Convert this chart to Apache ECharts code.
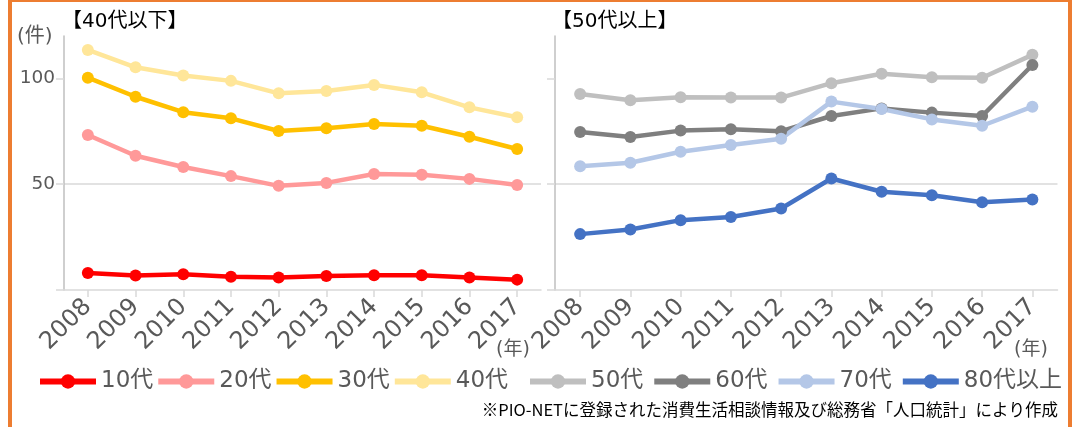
<!DOCTYPE html>
<html>
<head>
<meta charset="utf-8">
<script src="https://cdn.jsdelivr.net/npm/echarts@6/dist/echarts.min.js"></script>
<style>
html,body{margin:0;padding:0;background:#fff;}
#c{width:1076px;height:427px;}
</style>
</head>
<body>
<div id="c"></div>
<script>
const years = ['2008','2009','2010','2011','2012','2013','2014','2015','2016','2017'];
const yTickValues = [0, 50, 100];
const yLabelValues = [50, 100];

const leftNames = ['10代','20代','30代','40代'];
const rightNames = ['50代','60代','70代','80代以上'];

const s10 = [8.0, 6.8, 7.4, 6.3, 5.9, 6.6, 7.0, 7.0, 5.9, 4.9];
const s20 = [73.2, 63.4, 58.1, 53.8, 49.2, 50.6, 54.8, 54.4, 52.5, 49.6];
const s30 = [100.3, 91.3, 84.0, 81.1, 75.1, 76.4, 78.4, 77.6, 72.4, 66.6];
const s40 = [113.4, 105.2, 101.3, 98.8, 92.9, 94.0, 96.9, 93.4, 86.3, 81.6];

const s50 = [92.6, 89.6, 91.1, 90.9, 90.9, 97.7, 102.2, 100.5, 100.3, 111.1];
const s60 = [74.6, 72.3, 75.3, 75.9, 75.0, 82.2, 85.8, 83.8, 82.2, 106.3];
const s70 = [58.5, 60.1, 65.3, 68.5, 71.5, 89.0, 85.5, 80.6, 77.6, 86.6];
const s80 = [26.4, 28.6, 33.0, 34.5, 38.5, 52.7, 46.4, 44.8, 41.5, 42.8];

const colors = {
  '10代':'#FF0000','20代':'#FF9999','30代':'#FFC000','40代':'#FFE699',
  '50代':'#BFBFBF','60代':'#7F7F7F','70代':'#B4C7E7','80代以上':'#4472C4'
};

const FONT = '"DejaVu Sans", "Noto Sans CJK JP", sans-serif';
const CJK = '"Noto Sans CJK JP", sans-serif';
const gray = '#595959';

function mkX(gi){
  return {
    type:'category', gridIndex:gi, data:years, boundaryGap:true,
    axisLine:{show:true, lineStyle:{color:'#D9D9D9', width:1.5}},
    axisTick:{show:true, alignWithLabel:true, length:7, lineStyle:{color:'#D9D9D9', width:1.5}},
    axisLabel:{rotate:45, margin:13, color:gray, fontSize:24, fontFamily:FONT, interval:0}
  };
}
function mkY(gi, showLabels){
  return {
    type:'value', gridIndex:gi, min:0, max:120,
    axisLine:{show:true, lineStyle:{color:'#BFBFBF', width:1.5}},
    axisTick:{show:true, inside:false, length:8, customValues:yTickValues, lineStyle:{color:'#D9D9D9', width:1.5}},
    axisLabel:{show:showLabels, customValues:yLabelValues, margin:9, color:gray, fontSize:18.5, fontFamily:FONT},
    splitLine:{show:true, showMinLine:false, showMaxLine:false, lineStyle:{color:'#D9D9D9', width:1.5}}
  };
}
function mkS(name, data, gi){
  return {
    name, type:'line', data, xAxisIndex:gi, yAxisIndex:gi,
    symbol:'circle', symbolSize:12, showSymbol:true,
    lineStyle:{color:colors[name], width:4.5},
    itemStyle:{color:colors[name]},
    emphasis:{disabled:true}, animation:false, z:2
  };
}
function mkLegend(names, left, gap){
  return {data:names, left, top:370, width:620, padding:0, itemWidth:56, itemHeight:18, itemGap:gap,
    lineStyle:{width:6},
    textStyle:{color:gray, fontSize:23, fontFamily:FONT}, selectedMode:false};
}

const chart = echarts.init(document.getElementById('c'));
chart.setOption({
  animation:false,
  backgroundColor:'#fff',
  grid:[
    {left:64, top:36, width:477, height:254},
    {left:555, top:36, width:502.5, height:254}
  ],
  xAxis:[mkX(0), mkX(1)],
  yAxis:[mkY(0,true), mkY(1,false)],
  legend:[mkLegend(leftNames, 37, 2), mkLegend(rightNames, 527, 8)],
  series:[
    mkS('10代', s10, 0), mkS('20代', s20, 0), mkS('30代', s30, 0), mkS('40代', s40, 0),
    mkS('50代', s50, 1), mkS('60代', s60, 1), mkS('70代', s70, 1), mkS('80代以上', s80, 1)
  ],
  graphic:[
    {type:'rect', shape:{x:10, y:0, width:1060, height:500}, style:{fill:'none', stroke:'#ED7D31', lineWidth:4}, silent:true},
    {type:'text', left:62, top:12, style:{text:'【40代以下】', fill:'#000', font:'20px '+FONT}},
    {type:'text', left:552, top:12, style:{text:'【50代以上】', fill:'#000', font:'20px '+FONT}},
    {type:'text', left:17, top:27, style:{text:'(件)', fill:gray, font:'20px '+FONT}},
    {type:'text', left:496, top:341, style:{text:'(年)', fill:gray, font:'19px '+FONT}},
    {type:'text', left:1014, top:341, style:{text:'(年)', fill:gray, font:'19px '+FONT}},
    {type:'text', right:18, top:401, style:{text:'※PIO-NETに登録された消費生活相談情報及び総務省「人口統計」により作成', fill:'#000', font:'16.5px '+CJK}}
  ]
});
</script>
</body>
</html>
